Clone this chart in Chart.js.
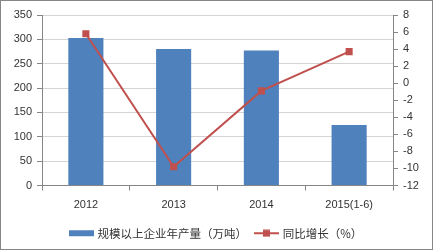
<!DOCTYPE html>
<html>
<head>
<meta charset="utf-8">
<script src="https://cdn.jsdelivr.net/npm/chart.js@4.4.1/dist/chart.umd.min.js"></script>
<style>
body { margin: 0; background: #fff; }
#box { position: absolute; left: 0; top: 0; width: 431px; height: 248px; border: 1px solid #868686; }
canvas { display: block; }
</style>
</head>
<body>
<div id="box"><canvas id="chart" width="431" height="248"></canvas></div>
<script>
// data
years = ['2012', '2013', '2014', '2015(1-6)']
output = [303, 280, 277, 124]        // 万吨
growth = [5.8, -9.8, -0.9, 3.7]      // %
outputLabel = '规模以上企业年产量（万吨）'
growthLabel = '同比增长（%）'

blue = '#4F81BD'
red = '#C0504D'
axisGray = '#868686'
textColor = '#333333'

Chart.defaults.font.family = '"Liberation Sans", Arial, sans-serif'
Chart.defaults.font.size = 11
Chart.defaults.color = textColor

// little pictures for the legend (bar box / line with square)
function legendIcon(kind) {
  c = document.createElement('canvas')
  c.width = 25
  c.height = 8
  ctx = c.getContext('2d')
  if (kind == 'bar') {
    ctx.fillStyle = blue
    ctx.fillRect(0, 1, 25, 6)
  } else {
    ctx.strokeStyle = red
    ctx.lineWidth = 2
    ctx.beginPath()
    ctx.moveTo(0, 4)
    ctx.lineTo(25, 4)
    ctx.stroke()
    ctx.fillStyle = red
    ctx.fillRect(9, 0.5, 7, 7)
  }
  return c
}
icons = [legendIcon('bar'), legendIcon('line')]

chart = new Chart(document.getElementById('chart'), {
  data: {
    labels: years,
    datasets: [
      {
        type: 'line',
        label: growthLabel,
        data: growth,
        yAxisID: 'y1',
        borderColor: red,
        backgroundColor: red,
        borderWidth: 2,
        tension: 0,
        pointStyle: 'rect',
        pointRadius: 5,
        pointBorderWidth: 0,
        order: 1
      },
      {
        type: 'bar',
        label: outputLabel,
        data: output,
        yAxisID: 'y',
        backgroundColor: blue,
        barPercentage: 0.4,
        categoryPercentage: 1,
        order: 2
      }
    ]
  },
  options: {
    responsive: false,
    animation: false,
    layout: { padding: { top: 14, left: 0, right: 0, bottom: 0 } },
    plugins: {
      tooltip: { enabled: false },
      legend: {
        position: 'bottom',
        reverse: true,
        labels: {
          usePointStyle: true,
          pointStyleWidth: 21,
          boxHeight: 8,
          padding: 9,
          color: textColor,
          font: { family: '"Noto Sans CJK SC", sans-serif', size: 11.5 },
          generateLabels: function (ch) {
            items = Chart.defaults.plugins.legend.labels.generateLabels(ch)
            items.forEach(it => {
              it.pointStyle = it.datasetIndex == 1 ? icons[0] : icons[1]
            })
            return items
          }
        }
      }
    },
    scales: {
      x: {
        grid: { offset: true, drawOnChartArea: false, tickLength: 5, color: axisGray },
        border: { color: axisGray },
        ticks: { padding: 8, color: textColor, font: { size: 11 } },
        afterFit: s => { s.height = 33 }
      },
      y: {
        position: 'left',
        min: 0,
        max: 350,
        ticks: { stepSize: 50, padding: 5, color: textColor },
        grid: { color: '#d4d4d4', tickColor: axisGray, tickLength: 5 },
        border: { color: axisGray },
        afterFit: s => { s.width = 41 }
      },
      y1: {
        position: 'right',
        min: -12,
        max: 8,
        ticks: { stepSize: 2, padding: 5, color: textColor },
        grid: { drawOnChartArea: false, tickColor: axisGray, tickLength: 5 },
        border: { color: axisGray },
        afterFit: s => { s.width = 39 }
      }
    }
  }
})
</script>
</body>
</html>
